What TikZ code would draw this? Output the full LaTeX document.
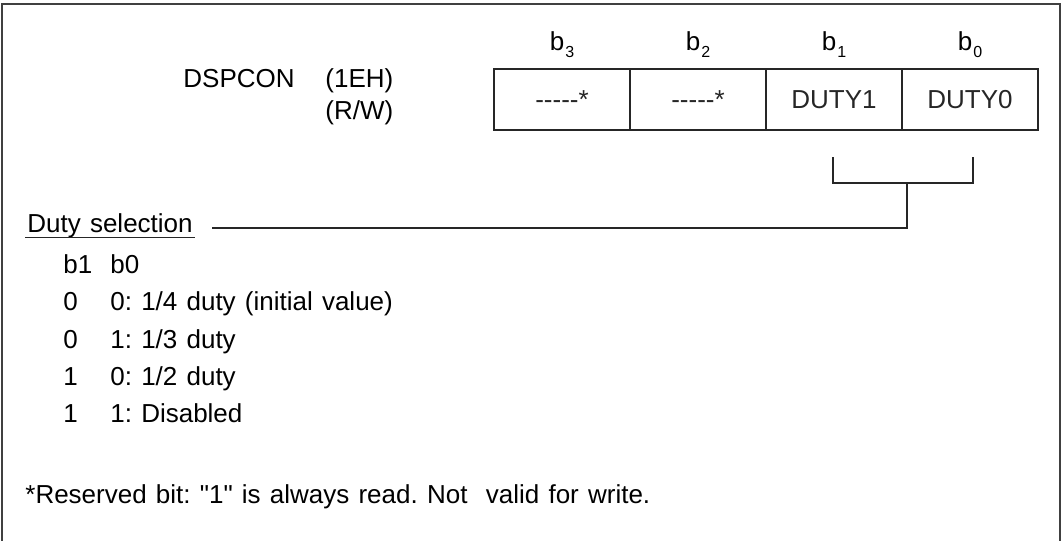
\documentclass[tikz,border=0pt]{standalone}
\usepackage{fontspec}
\setmainfont{Liberation Sans}
\usetikzlibrary{positioning}
\frenchspacing

\newcommand{\rsv}{{-}{-}{-}{-}{-}*}
\newcommand{\bitsub}[1]{b\kern0.5pt\raisebox{-3.5pt}{\fontsize{8pt}{8pt}\selectfont #1}}
\newcommand{\diagfont}{\fontsize{13pt}{16pt}\selectfont\spaceskip=4.6pt plus 1pt minus 1pt\relax}

\tikzset{
  frameline/.style={line width=0.9pt, black!75},
  boxline/.style={line width=0.6pt, black!85},
  bitcell/.style={draw, boxline, minimum width=68pt, minimum height=30.5pt,
    inner sep=0pt, outer sep=0pt},
  txt/.style={inner sep=0pt, anchor=base west},
  bitlbl/.style={inner sep=0pt, anchor=base},
}

\begin{document}
\begin{tikzpicture}[x=0.5pt, y=-0.5pt, font=\diagfont]
  % 画布与外框（底边开口）
  \useasboundingbox (0,0) rectangle (1062,541);
  \draw[frameline] (2,541) -- (2,4) -- (1060,4) -- (1060,541);

  % 寄存器名称
  \node[txt] (name) at (183,87) {DSPCON};
  \node[txt] (addr) at (325,87) {(1EH)};
  \node[txt] (rw)   at (325,119) {(R/W)};

  % 位单元
  \node[bitcell, anchor=north west] (c3) at (494,69) {\rsv};
  \node[bitcell, right=0pt of c3] (c2) {\rsv};
  \node[bitcell, right=0pt of c2] (d1) {DUTY1};
  \node[bitcell, right=0pt of d1] (d0) {DUTY0};

  % 位号
  \foreach \c/\n in {c3/3, c2/2, d1/1, d0/0}
    \node[bitlbl] (b\n) at ([yshift=9.5pt]\c.north) {\bitsub{\n}};

  % 括号与引线
  \coordinate (kL) at (833,157);
  \coordinate (kR) at (973,157);
  \coordinate (kM) at (907,183);
  \coordinate (lead) at (212,228);
  \draw[boxline] (kL) |- (kM) -| (kR);
  \draw[boxline] (kM) |- (lead);

  % 说明
  \node[txt, inner xsep=1pt] (duty) at (25,232) {Duty selection};
  \draw[boxline] (duty.south west) -- (duty.south east);

  \node[txt] (h1) at (63,273) {b1};
  \node[txt] (h0) at (110,273) {b0};
  \foreach \y/\a/\b in {310/0/{0: 1/4 duty (initial value)},
                        348/0/{1: 1/3 duty},
                        385/1/{0: 1/2 duty},
                        422/1/{1: Disabled}}{
    \node[txt] at (63,\y) {\a};
    \node[txt] at (110,\y) {\b};
  }

  % 脚注
  \node[txt] (note) at (25,503) {*Reserved bit: \textquotedbl 1\textquotedbl{} is always read. Not\ \ valid for write.};
\end{tikzpicture}
\end{document}
